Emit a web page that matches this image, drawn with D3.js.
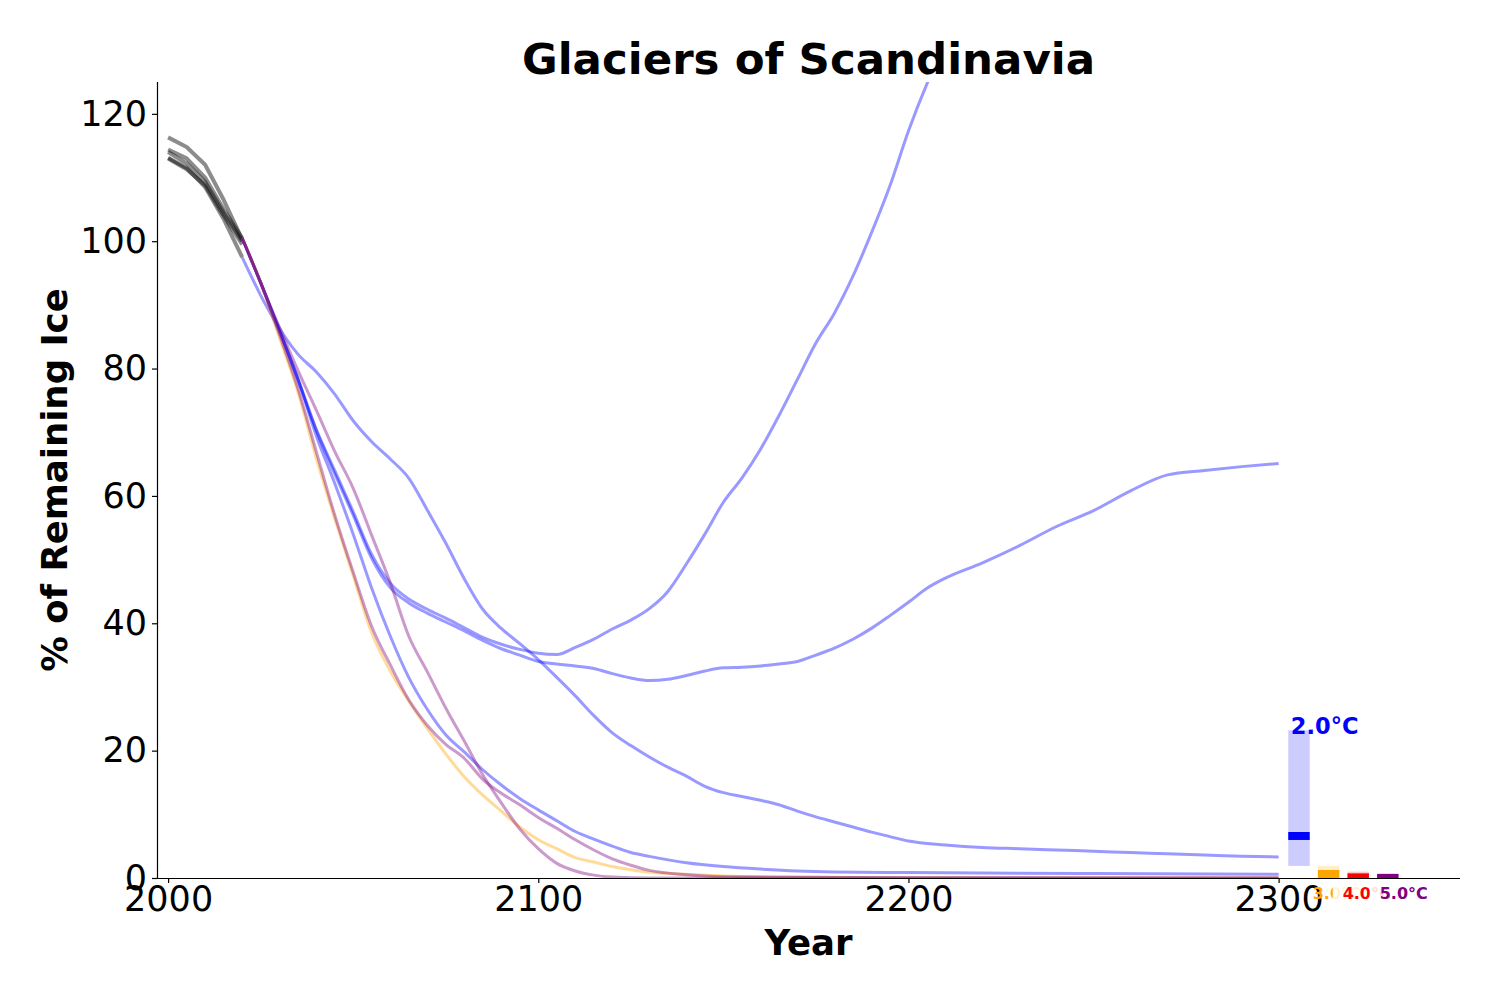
<!DOCTYPE html>
<html>
<head>
<meta charset="utf-8">
<script src="https://cdn.jsdelivr.net/npm/d3@7"></script>
<style>
  body { margin: 0; background: #fff; }
  svg { font-family: "DejaVu Sans", sans-serif; }
</style>
</head>
<body>
<svg id="chart" width="1500" height="1000"></svg>
<script>
// ---------- DATA ----------
const histYears = [2000, 2005, 2010, 2015, 2020];
const hist1 = [116.3, 114.8, 112.0, 106.5, 100.3];
const hist2 = [114.4, 113.0, 110.0, 105.0, 100.5];
const hist3 = [114.0, 112.2, 109.3, 104.5, 100.0];
const hist4 = [113.0, 111.3, 108.8, 104.0, 99.5];
const hist5 = [113.1, 111.5, 108.5, 103.5, 97.5];

// 2.0°C projections (blue)
const yearsA = [2020,2025,2030,2035,2040,2045,2050,2055,2060,2065,2070,2075,2080,2085,2090,2095,2100,2105,2110,2115,2120,2125,2130,2135,2140,2145,2150,2155,2160,2165,2170,2175,2180,2185,2190,2195,2200,2205,2210,2215];
const blueA  = [100.5,93.5,86,78.5,70.5,64,57.5,50.8,46.3,43.8,42.2,40.8,39.3,37.8,36.7,35.9,35.3,35.1,36.2,37.5,39.1,40.5,42.3,45,49.3,54,59,62.8,67.3,72.6,78.3,84,88.7,94.5,101.3,108.7,117.3,124.7,131,137];

const yearsB = [2020,2025,2030,2035,2040,2045,2050,2055,2060,2065,2070,2075,2080,2085,2090,2095,2100,2105,2110,2115,2120,2125,2130,2135,2140,2145,2150,2155,2160,2165,2170,2175,2180,2185,2190,2195,2200,2205,2210,2220,2230,2240,2250,2260,2270,2280,2290,2300];
const blueB  = [100.5,93.5,86,78.3,70.3,63.5,57,50.2,45.6,43.2,41.6,40.2,38.8,37.3,36.0,35.0,34.0,33.6,33.3,32.9,32.1,31.4,31.0,31.2,31.8,32.5,33.0,33.1,33.3,33.6,34.0,35.0,36.1,37.5,39.2,41.2,43.3,45.5,47.1,49.5,52.2,55.2,57.7,60.8,63.3,64.0,64.6,65.1];

const yearsC = [2020,2025,2030,2035,2040,2045,2050,2055,2060,2065,2070,2075,2080,2085,2090,2095,2100,2105,2110,2115,2120,2125,2130,2135,2140,2145,2150,2155,2160,2165,2170,2175,2180,2185,2190,2195,2200,2210,2220,2230,2240,2250,2260,2270,2280,2290,2300];
const blueC  = [100.5,93.5,86.5,82.3,79.5,76,71.8,68.5,65.8,62.8,57.8,52.6,47,42.2,39.2,36.8,34.3,31.5,28.6,25.5,22.8,20.8,19,17.4,16,14.4,13.4,12.8,12.2,11.5,10.5,9.6,8.8,8,7.2,6.5,5.8,5.2,4.8,4.6,4.4,4.2,4.0,3.8,3.6,3.4,3.3];

const yearsD = [2020,2025,2030,2035,2040,2045,2050,2055,2060,2065,2070,2075,2080,2085,2090,2095,2100,2105,2110,2115,2120,2125,2130,2140,2150,2160,2170,2180,2200,2250,2300];
const blueD  = [97.5,91.5,86,78.5,69.5,62,54,45.5,38,31.5,26.5,22.5,19.8,17,14.6,12.5,10.7,9,7.3,6.1,5,4,3.4,2.4,1.8,1.4,1.1,0.95,0.85,0.7,0.6];

// 3.0°C projection (orange)
const yearsO = [2020,2025,2030,2035,2040,2045,2050,2055,2060,2065,2070,2075,2080,2085,2090,2095,2100,2105,2110,2115,2120,2125,2130,2140,2150,2170,2200,2250,2300];
const orange3 = [100.5,93.5,85,76.5,66,56.5,47.5,38.5,32.5,27.8,23.5,19.5,15.9,13,10.5,8,6,4.6,3.2,2.5,1.8,1.3,0.9,0.6,0.3,0.1,0.05,0,0];

// 5.0°C projections (purple)
const yearsM = [2020,2025,2030,2035,2040,2045,2050,2055,2060,2065,2070,2075,2080,2085,2090,2095,2100,2105,2110,2115,2120,2125,2130,2140,2150,2200,2300];
const purpleM = [100.5,93.5,85.5,77,67,57,48,39.5,33.5,28,24,21,18.8,15.5,13.3,11.5,9.5,7.8,6,4.4,3,2,1.2,0.5,0.2,0.05,0];

const yearsP = [2020,2025,2030,2035,2040,2045,2050,2055,2060,2065,2070,2075,2080,2085,2090,2095,2100,2105,2110,2115,2120,2130,2300];
const purpleP = [100.5,93.5,86.5,79.8,73.5,67,61.2,53.8,46.4,38,32.4,26.7,21.5,16.2,11.8,7.7,4.6,2.3,1.1,0.45,0.15,0,0];

// End-of-run summary boxes
const scenLabels = ["2.0°C", "3.0°C", "4.0°C", "5.0°C"];
const scenColors = ["blue", "orange", "red", "purple"];
const boxYears   = [2305.5, 2313.5, 2321.5, 2329.5];
const boxMin     = [1.9, 0, 0, 0];
const boxMax     = [23.2, 1.9, 1.0, 0.75];
const boxMedian  = [6.6, 0.63, 0.1, 0.0];
const labelYears = [2303.3, 2309.2, 2317.3, 2327.3];

const xTicks = [2000, 2100, 2200, 2300];
const yTicks = [0, 20, 40, 60, 80, 100, 120];

// ---------- LAYOUT ----------
const svg = d3.select("#chart");
const L = 157, R = 1460, T = 82, B = 878;
const x = d3.scaleLinear().domain([1997, 2349]).range([L, R]);
const y = d3.scaleLinear().domain([0, 125]).range([B, T]);

svg.append("defs").append("clipPath").attr("id", "plotclip")
  .append("rect").attr("x", L).attr("y", T).attr("width", R - L).attr("height", B - T);

const plot = svg.append("g").attr("clip-path", "url(#plotclip)");
const zip = (xs, ys) => xs.map((v, i) => [v, ys[i]]);

// historical
const lineH = d3.line().x(d => x(d[0])).y(d => y(d[1]));
[hist1, hist2, hist3, hist4, hist5].forEach(h => {
  plot.append("path").datum(zip(histYears, h)).attr("d", lineH)
    .attr("fill", "none").attr("stroke", "black").attr("stroke-opacity", 0.45)
    .attr("stroke-width", 4).attr("stroke-linejoin", "round");
});

const lineP = d3.line().x(d => x(d[0])).y(d => y(d[1])).curve(d3.curveMonotoneX);
const proj = [
  [yearsA, blueA, "blue"], [yearsB, blueB, "blue"], [yearsC, blueC, "blue"], [yearsD, blueD, "blue"],
  [yearsO, orange3, "orange"],
  [yearsM, purpleM, "purple"], [yearsP, purpleP, "purple"]
];
proj.forEach(([xs, ys, c]) => {
  plot.append("path").datum(zip(xs, ys)).attr("d", lineP)
    .attr("fill", "none").attr("stroke", c).attr("stroke-opacity", 0.4)
    .attr("stroke-width", 3).attr("stroke-linejoin", "round");
});

// boxes
const bw = 5.8;
scenLabels.forEach((lab, i) => {
  plot.append("rect")
    .attr("x", x(boxYears[i] - bw / 2)).attr("width", x(boxYears[i] + bw / 2) - x(boxYears[i] - bw / 2))
    .attr("y", y(boxMax[i])).attr("height", y(boxMin[i]) - y(boxMax[i]))
    .attr("fill", scenColors[i]).attr("fill-opacity", 0.2);
  plot.append("line")
    .attr("x1", x(boxYears[i] - bw / 2)).attr("x2", x(boxYears[i] + bw / 2))
    .attr("y1", y(boxMedian[i])).attr("y2", y(boxMedian[i]))
    .attr("stroke", scenColors[i]).attr("stroke-width", 8);
});

// axes
const xAxis = d3.axisBottom(x).tickValues(xTicks).tickFormat(d3.format("d")).tickSize(5).tickPadding(3);
const yAxis = d3.axisLeft(y).tickValues(yTicks).tickSize(5).tickPadding(5);
const gx = svg.append("g").attr("transform", `translate(0,${B})`).call(xAxis);
const gy = svg.append("g").attr("transform", `translate(${L},0)`).call(yAxis);
[gx, gy].forEach(g => {
  g.selectAll("text").attr("font-size", 35).attr("fill", "black").attr("font-family", "DejaVu Sans");
  g.selectAll("line").attr("stroke", "black").attr("stroke-width", 1.2);
  g.select(".domain").attr("stroke", "black").attr("stroke-width", 1.2);
});
gx.select(".domain").attr("d", `M${L},0.5H${R}`);
gy.select(".domain").attr("d", `M0.5,${B}V${T}`);

// scenario labels (later labels mask earlier ones with a translucent white box)
scenLabels.forEach((lab, i) => {
  const big = i === 0;
  const fs = big ? 22.5 : 16;
  const tx = x(labelYears[i]);
  const ty = big ? y(boxMax[i]) + 4 : B + 21;
  const g = svg.append("g");
  const t = g.append("text").attr("x", tx).attr("y", ty)
    .attr("font-size", fs).attr("font-weight", "bold").attr("fill", scenColors[i]).text(lab);
  if (i >= 2) {
    const bb = t.node().getBBox();
    g.insert("rect", "text").attr("x", bb.x - 10).attr("y", bb.y - 1)
      .attr("width", bb.width + 16).attr("height", bb.height + 2)
      .attr("fill", "white").attr("fill-opacity", 0.85);
  }
});

// titles
svg.append("text").attr("x", (L + R) / 2).attr("y", 74).attr("text-anchor", "middle")
  .attr("font-size", 43.5).attr("font-weight", "bold").text("Glaciers of Scandinavia");
svg.append("text").attr("x", (L + R) / 2).attr("y", 955).attr("text-anchor", "middle")
  .attr("font-size", 35.5).attr("font-weight", "bold").text("Year");
svg.append("text").attr("transform", `translate(67,${(T + B) / 2}) rotate(-90)`)
  .attr("text-anchor", "middle").attr("font-size", 35.5).attr("font-weight", "bold").text("% of Remaining Ice");
</script>
</body>
</html>
